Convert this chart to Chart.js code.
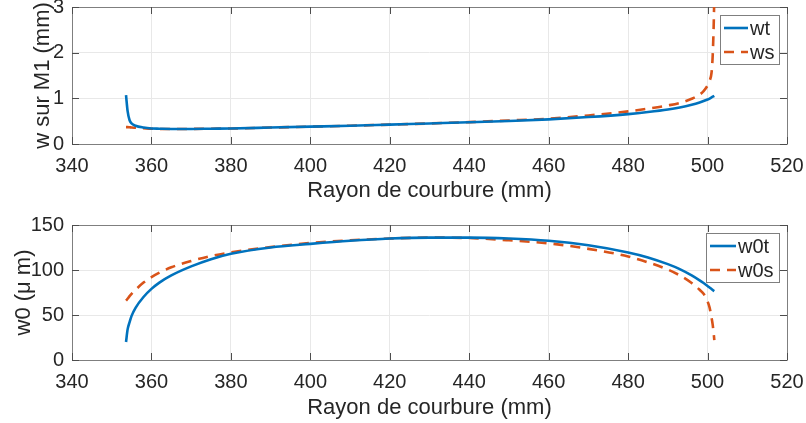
<!DOCTYPE html>
<html>
<head>
<meta charset="utf-8">
<script src="https://cdn.jsdelivr.net/npm/chart.js@4.4.0/dist/chart.umd.min.js"></script>
<style>
body { margin: 0; background: #fff; }
#wrap { position: relative; width: 806px; height: 423px; }
#topChart { position: absolute; left: 0; top: 0; }
#bottomChart { position: absolute; left: 0; top: 211px; }
</style>
</head>
<body>
<div id="wrap">
	<canvas id="topChart" width="806" height="211"></canvas>
	<canvas id="bottomChart" width="806" height="212"></canvas>
</div>
<script>
// rayon de courbure (mm)
var rayon = [353.6, 354, 354.5, 355, 356, 358, 360, 362, 365, 370, 375, 380, 390, 400, 410, 420, 430, 440, 450, 460, 470, 480, 485, 490, 493, 496, 498, 499, 500, 500.5, 501, 501.3, 501.6, 501.7];

// w sur M1 (mm)
var wt = [1.07, 0.72, 0.52, 0.45, 0.40, 0.36, 0.34, 0.335, 0.33, 0.33, 0.335, 0.34, 0.36, 0.38, 0.40, 0.425, 0.45, 0.475, 0.505, 0.54, 0.59, 0.655, 0.70, 0.755, 0.80, 0.86, 0.91, 0.94, 0.975, 0.995, 1.02, 1.035, 1.05, 1.055];
var ws = [0.37, 0.37, 0.365, 0.36, 0.355, 0.345, 0.335, 0.33, 0.33, 0.33, 0.335, 0.34, 0.36, 0.38, 0.40, 0.425, 0.45, 0.48, 0.515, 0.555, 0.625, 0.715, 0.775, 0.845, 0.90, 0.99, 1.08, 1.16, 1.28, 1.38, 1.56, 1.95, 2.8, 3.3];

// w0 (um)
var w0t = [20, 34, 42, 49, 58, 70, 79, 86, 94, 104, 112, 118, 125, 129, 132.5, 135, 136, 136, 135, 132.5, 127.5, 119.5, 114, 106.5, 101, 94, 88.5, 85.5, 82.3, 80.6, 78.9, 77.8, 76.8, 76.5];
var w0s = [66, 68, 71, 73.5, 78, 86, 92, 97, 103, 110, 115.5, 119.5, 125.5, 130, 133, 135, 136, 135.5, 133, 129.6, 123.5, 115, 108.5, 100.5, 94, 85.5, 78, 73.5, 65, 58.5, 47, 39, 27, 22];

var xTicks = [340, 360, 380, 400, 420, 440, 460, 480, 500, 520];
var topTicks = [0, 1, 2, 3];
var bottomTicks = [0, 50, 100, 150];

var fontFamily = '"Liberation Sans", Arial, Helvetica, sans-serif';
var textColor = '#262626';
var axisColor = '#7f7f7f';
var blue = '#0072BD';
var orange = '#D95319';

function toPoints(xs, ys) {
	var pts = [];
	for (var i = 0; i < xs.length; i++) {
		pts.push({ x: xs[i], y: ys[i] });
	}
	return pts;
}

function useTicks(list) {
	return function(scale) {
		scale.ticks = list.map(function(v) { return { value: v }; });
	};
}

// cadre + graduations interieures facon matlab
var boxPlugin = {
	id: 'boxPlugin',
	beforeDatasetsDraw: function(chart) {
		var ctx = chart.ctx;
		var a = chart.chartArea;
		var xs = chart.scales.x;
		var ys = chart.scales.y;
		ctx.save();
		ctx.strokeStyle = axisColor;
		ctx.lineWidth = 1;
		ctx.beginPath();
		ctx.rect(Math.round(a.left) + 0.5, Math.round(a.top) + 0.5, Math.round(a.right - a.left), Math.round(a.bottom - a.top));
		ctx.stroke();
		ctx.strokeStyle = '#4d4d4d';
		ctx.beginPath();
		xs.ticks.forEach(function(t) {
			var px = Math.round(xs.getPixelForValue(t.value)) + 0.5;
			ctx.moveTo(px, a.bottom); ctx.lineTo(px, a.bottom - 7);
			ctx.moveTo(px, a.top); ctx.lineTo(px, a.top + 7);
		});
		ys.ticks.forEach(function(t) {
			var py = Math.round(ys.getPixelForValue(t.value)) + 0.5;
			ctx.moveTo(a.left, py); ctx.lineTo(a.left + 7, py);
			ctx.moveTo(a.right, py); ctx.lineTo(a.right - 7, py);
		});
		ctx.stroke();
		ctx.restore();
	}
};

// legende dans un cadre en haut a droite
var legendPlugin = {
	id: 'legendPlugin',
	afterDraw: function(chart) {
		var ctx = chart.ctx;
		var a = chart.chartArea;
		var sets = chart.data.datasets;
		ctx.save();
		ctx.font = '20px ' + fontFamily;
		var maxW = 0;
		sets.forEach(function(ds) {
			maxW = Math.max(maxW, ctx.measureText(ds.label).width);
		});
		var sample = chart.options.plugins.legendPlugin.sample;
		var w = 4 + sample + 2 + maxW + 5;
		var h = 49;
		var right = a.right - 8;
		var left = Math.round(right - w);
		var top = Math.round(a.top + 8);
		ctx.fillStyle = '#fff';
		ctx.fillRect(left, top, w, h);
		ctx.strokeStyle = axisColor;
		ctx.lineWidth = 1;
		ctx.strokeRect(left + 0.5, top + 0.5, Math.round(w), h);
		sets.forEach(function(ds, i) {
			var cy = top + 13 + i * 24;
			ctx.strokeStyle = ds.borderColor;
			ctx.lineWidth = ds.borderWidth;
			ctx.setLineDash(ds.borderDash || []);
			ctx.beginPath();
			ctx.moveTo(left + 4, cy);
			ctx.lineTo(left + 4 + sample, cy);
			ctx.stroke();
			ctx.setLineDash([]);
			ctx.fillStyle = textColor;
			ctx.textBaseline = 'middle';
			ctx.textAlign = 'left';
			ctx.fillText(ds.label, left + 4 + sample + 2, cy + 1);
		});
		ctx.restore();
	}
};

function renderChart(id, opt) {
	var canvas = document.getElementById(id);
	var options = {
		type: 'line',
		data: {
			datasets: [{
				label: opt.labels[0],
				data: toPoints(rayon, opt.solid),
				borderColor: blue,
				borderWidth: 2.6,
				pointRadius: 0,
				cubicInterpolationMode: 'monotone'
			}, {
				label: opt.labels[1],
				data: toPoints(rayon, opt.dashed),
				borderColor: orange,
				borderWidth: 2.6,
				borderDash: [10, 7],
				pointRadius: 0,
				cubicInterpolationMode: 'monotone'
			}]
		},
		options: {
			responsive: false,
			animation: false,
			devicePixelRatio: 1,
			layout: {
				padding: { left: 0, right: 19, top: opt.padTop, bottom: 0 }
			},
			scales: {
				x: {
					type: 'linear',
					min: 340,
					max: 520,
					afterBuildTicks: useTicks(xTicks),
					afterFit: function(s) {
						s.height = opt.xHeight;
						s.paddingLeft = 0;
						s.paddingRight = 0;
					},
					grid: { color: '#e8e8e8', drawTicks: false },
					border: { display: false },
					ticks: {
						padding: 10,
						color: textColor,
						font: { family: fontFamily, size: 20 }
					},
					title: {
						display: true,
						text: 'Rayon de courbure (mm)',
						color: textColor,
						font: { family: fontFamily, size: 22 },
						padding: { top: 0, bottom: opt.xTitlePad }
					}
				},
				y: {
					min: opt.yMin,
					max: opt.yMax,
					afterBuildTicks: useTicks(opt.yTicks),
					afterFit: function(s) {
						s.width = 72;
						s.paddingTop = 0;
						s.paddingBottom = 0;
					},
					grid: { color: '#e8e8e8', drawTicks: false },
					border: { display: false },
					ticks: {
						padding: 8,
						color: textColor,
						font: { family: fontFamily, size: 20 }
					},
					title: {
						display: true,
						text: opt.yTitle,
						color: textColor,
						font: { family: fontFamily, size: 22 },
						padding: { top: opt.yTitlePad, bottom: 0 }
					}
				}
			},
			plugins: {
				legend: { display: false },
				tooltip: { enabled: false },
				legendPlugin: { sample: opt.sample }
			}
		},
		plugins: [boxPlugin, legendPlugin]
	};
	new Chart(canvas, options);
}

renderChart('topChart', {
	labels: ['wt', 'ws'],
	solid: wt,
	dashed: ws,
	yMin: 0,
	yMax: 3,
	yTicks: topTicks,
	yTitle: 'w sur M1 (mm)',
	padTop: 7,
	xHeight: 67,
	xTitlePad: 7,
	yTitlePad: 30,
	sample: 24
});

renderChart('bottomChart', {
	labels: ['w0t', 'w0s'],
	solid: w0t,
	dashed: w0s,
	yMin: 0,
	yMax: 150,
	yTicks: bottomTicks,
	yTitle: 'w0 (\u03bc m)',
	padTop: 14,
	xHeight: 63,
	xTitlePad: 2,
	yTitlePad: 11,
	sample: 26
});
</script>
</body>
</html>
